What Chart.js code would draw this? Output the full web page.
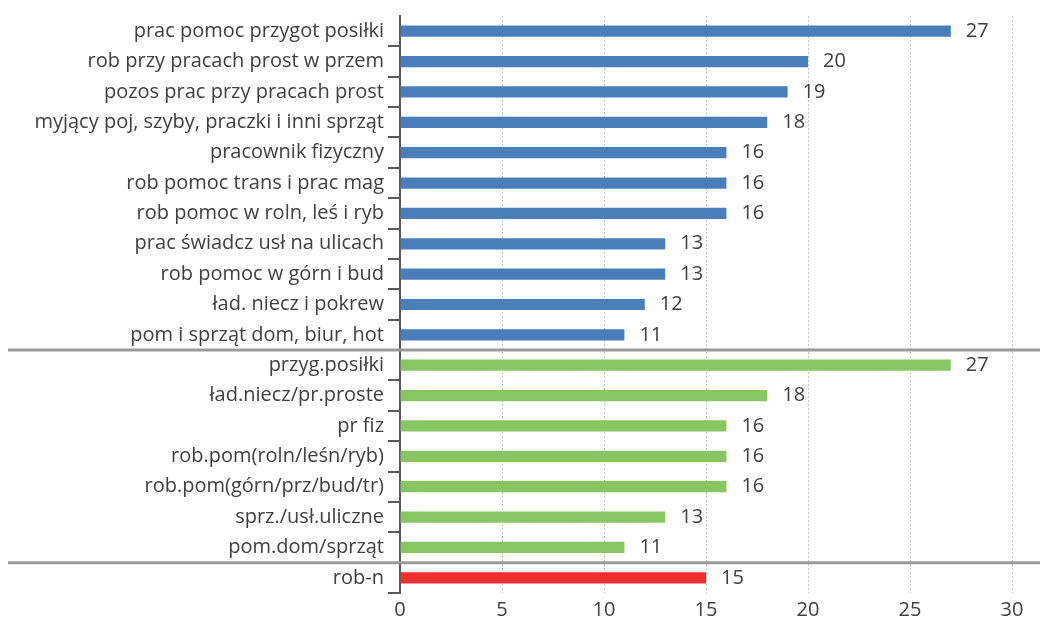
<!DOCTYPE html>
<html>
<head>
<meta charset="utf-8">
<script src="https://cdn.jsdelivr.net/npm/chart.js@4"></script>
<style>
  body { margin: 0; background: #fff; }
  #wrap { width: 1040px; height: 630px; }
</style>
</head>
<body>
<div id="wrap"><canvas id="myChart" width="1040" height="630"></canvas></div>
<script>
// dane - grupa 1 (niebieska)
const blueLabels = ['prac pomoc przygot posiłki', 'rob przy pracach prost w przem', 'pozos prac przy pracach prost',
  'myjący poj, szyby, praczki i inni sprząt', 'pracownik fizyczny', 'rob pomoc trans i prac mag',
  'rob pomoc w roln, leś i ryb', 'prac świadcz usł na ulicach', 'rob pomoc w górn i bud',
  'ład. niecz i pokrew', 'pom i sprząt dom, biur, hot'];
const blueValues = [27, 20, 19, 18, 16, 16, 16, 13, 13, 12, 11];
// grupa 2 (zielona)
const greenLabels = ['przyg.posiłki', 'ład.niecz/pr.proste', 'pr fiz', 'rob.pom(roln/leśn/ryb)',
  'rob.pom(górn/prz/bud/tr)', 'sprz./usł.uliczne', 'pom.dom/sprząt'];
const greenValues = [27, 18, 16, 16, 16, 13, 11];
// grupa 3 (czerwona)
const redLabels = ['rob-n'];
const redValues = [15];
const xTicks = [0, 5, 10, 15, 20, 25, 30];

const labels = [...blueLabels, ...greenLabels, ...redLabels];
const values = [...blueValues, ...greenValues, ...redValues];
const colors = [
  ...blueValues.map(() => '#4a7ebb'),
  ...greenValues.map(() => '#88c563'),
  ...redValues.map(() => '#f0302f')
];
const separators = [blueLabels.length, blueLabels.length + greenLabels.length];

const FONT = "'Open Sans', 'Noto Sans', sans-serif";

// etykiety wartości + linie oddzielające grupy
const extras = {
  id: 'extras',
  afterDatasetsDraw(chart) {
    const ctx = chart.ctx;
    const meta = chart.getDatasetMeta(0);
    ctx.save();
    ctx.font = '20px ' + FONT;
    ctx.fillStyle = '#404040';
    ctx.textBaseline = 'middle';
    meta.data.forEach((bar, i) => {
      ctx.fillText(values[i], bar.x + 15, bar.y);
    });
    const y = chart.scales.y;
    ctx.strokeStyle = '#9a9a9a';
    ctx.lineWidth = 3;
    separators.forEach(idx => {
      const py = (y.getPixelForValue(idx - 1) + y.getPixelForValue(idx)) / 2;
      ctx.beginPath();
      ctx.moveTo(8, py);
      ctx.lineTo(chart.width, py);
      ctx.stroke();
    });
    ctx.restore();
  }
};

const config = {
  type: 'bar',
  data: {
    labels: labels,
    datasets: [{
      data: values,
      backgroundColor: colors,
      barPercentage: 0.37,
      categoryPercentage: 1
    }]
  },
  options: {
    indexAxis: 'y',
    responsive: false,
    animation: false,
    layout: { padding: { top: 13, right: 28, left: 0, bottom: 0 } },
    plugins: { legend: { display: false }, tooltip: { enabled: false } },
    scales: {
      x: {
        min: 0,
        max: 30,
        afterBuildTicks: s => { s.ticks = xTicks.map(v => ({ value: v })); },
        afterFit: s => { s.height = 37; },
        grid: { color: '#c4c4c4', drawTicks: false },
        border: { display: false, dash: [2, 2] },
        ticks: { color: '#404040', font: { family: FONT, size: 20 }, padding: 5 }
      },
      y: {
        afterFit: s => { s.width = 400; },
        grid: {
          drawOnChartArea: false, drawTicks: true, tickLength: 12, lineWidth: 2,
          tickColor: c => (c.index === 0 || c.index === labels.length) ? 'rgba(0,0,0,0)' : '#595959'
        },
        border: { display: true, color: '#595959', width: 2 },
        ticks: { color: '#404040', font: { family: FONT, size: 20 }, padding: 4, autoSkip: false }
      }
    }
  },
  plugins: [extras]
};

const myChart = new Chart(document.getElementById('myChart'), config);
</script>
</body>
</html>
